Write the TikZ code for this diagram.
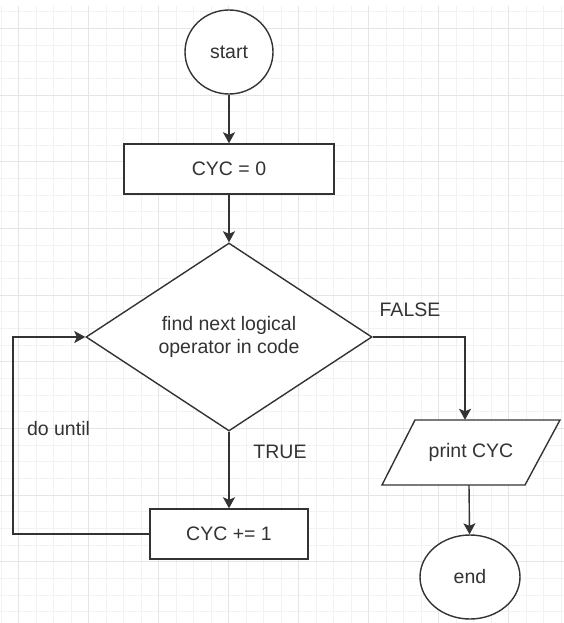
\documentclass[tikz,border=0pt]{standalone}
\usepackage{fontspec}
\setmainfont{Liberation Sans}
\usetikzlibrary{shapes.geometric,arrows.meta}
\definecolor{ink}{HTML}{333333}
\begin{document}
\begin{tikzpicture}[x=1pt,y=-1pt,
  font=\fontsize{19.5}{23}\selectfont,
  every node/.style={text=ink},
  box/.style={draw=ink,line width=1.4pt,fill=white,rectangle,minimum height=50pt,inner sep=0pt},
  term/.style={draw=ink,line width=1.4pt,fill=white,ellipse,minimum height=84pt,inner sep=0pt},
  flow/.style={draw=ink,line width=1.4pt,-{Stealth[length=11pt,width=12pt,inset=2.5pt]}},
  gridminor/.style={draw=gray!10,line width=0.8pt},
  gridmajor/.style={draw=gray!20,line width=0.9pt}]

\useasboundingbox (0,0) rectangle (564,623);
\fill[white] (0,0) rectangle (564,623);

\foreach \i in {0,...,32}
{
\draw[gridminor] ({1.2+17.5*\i},6)--({1.2+17.5*\i},623);
}
\foreach \j in {0,...,36}
{
\draw[gridminor] (0,{11.7+16.667*\j})--(564,{11.7+16.667*\j});
}
\foreach \i in {0,...,7}
{
\draw[gridmajor] ({18.7+70*\i},6)--({18.7+70*\i},623);
}
\foreach \j in {0,...,8}
{
\draw[gridmajor] (0,{28.3+66.667*\j})--(564,{28.3+66.667*\j});
}

\node[term,minimum width=88pt] (start) at (229,52) {start};
\node[box,minimum width=210pt] (init) at (229,169) {CYC = 0};
\node[draw=ink,line width=1.4pt,fill=white,diamond,minimum width=286pt,minimum height=188pt,inner sep=0pt,align=center] (find) at (229,337) {find next logical\\operator in code};
\node[box,minimum width=158pt] (incr) at (229,534) {CYC += 1};

\filldraw[draw=ink,fill=white,line width=1.4pt,line join=miter] (382,485)--(525,485)--(560,420)--(415,420)--cycle;
\node[minimum width=143pt,minimum height=65pt,inner sep=0pt] (print) at (471,452.5) {print CYC};
\node[term,minimum width=100pt] (stop) at (470,577) {end};

\node (falselbl) at (410,310) {FALSE};
\node (truelbl) at (280,452) {TRUE};
\node (dountil) at (58.5,429) {do until};

\coordinate (loopcorner) at (13,534);

\draw[flow] (start)--(init);
\draw[flow] (init)--(find);
\draw[flow] (find.south)--(incr);
\draw[flow] (find.east) -| ([xshift=-6pt]print.north);
\draw[flow] ([xshift=-2pt]print.south)--(stop);
\draw[flow] (incr.west)--(loopcorner) |- (find.west);

\end{tikzpicture}
\end{document}
